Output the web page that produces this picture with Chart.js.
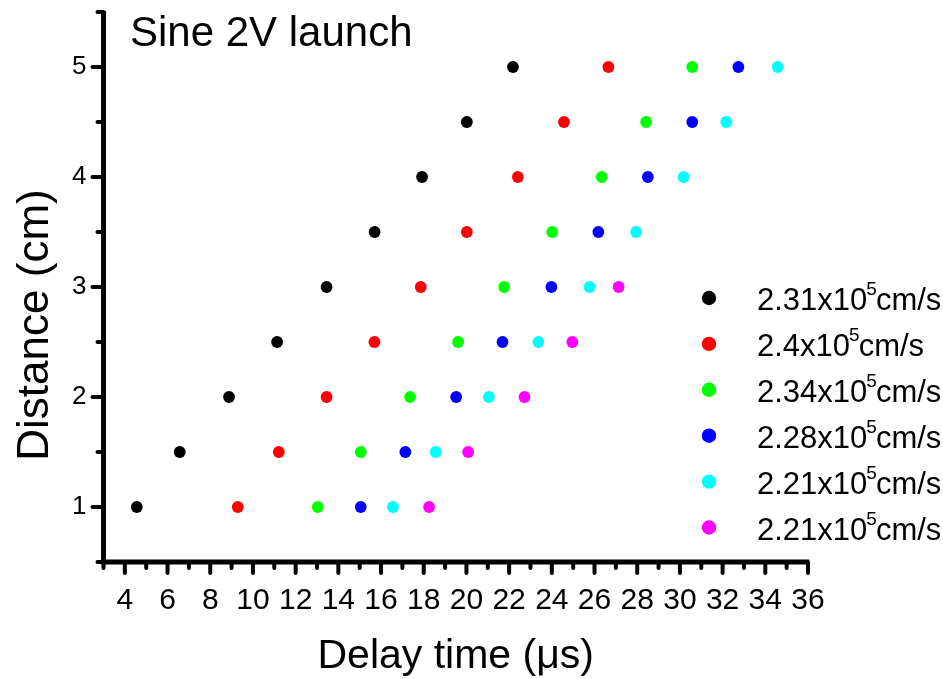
<!DOCTYPE html>
<html>
<head>
<meta charset="utf-8">
<script src="https://cdn.jsdelivr.net/npm/chart.js@4/dist/chart.umd.min.js"></script>
<style>
  html, body { margin: 0; padding: 0; background: #fff; overflow: hidden; }
  #wrap { width: 943px; height: 679px; position: relative; }
</style>
</head>
<body>
<div id="wrap"><canvas id="c" width="943" height="679"></canvas></div>
<script>
// Distance (cm) at which each delay was measured
const distance = [1, 1.5, 2, 2.5, 3, 3.5, 4, 4.5, 5];
const distanceShort = [1, 1.5, 2, 2.5, 3];

// Delay time (µs) per run
const delayRun1 = [4.56, 6.57, 8.88, 11.13, 13.45, 15.70, 17.92, 20.02, 22.18];
const delayRun2 = [9.29, 11.21, 13.45, 15.69, 17.86, 20.02, 22.41, 24.57, 26.65];
const delayRun3 = [13.04, 15.05, 17.36, 19.61, 21.77, 24.02, 26.34, 28.42, 30.58];
const delayRun4 = [15.05, 17.14, 19.52, 21.69, 23.98, 26.18, 28.50, 30.58, 32.74];
const delayRun5 = [16.56, 18.56, 21.05, 23.37, 25.77, 27.95, 30.17, 32.17, 34.58];
const delayRun6 = [18.25, 20.08, 22.72, 24.96, 27.13];

// Fitted wave speeds (mantissa of ×10^5 cm/s)
const speeds = ['2.31', '2.4', '2.34', '2.28', '2.21', '2.21'];
const colors = ['#000000', '#ff0000', '#00ff00', '#0000ff', '#00ffff', '#ff00ff'];

// Axis ticks
const xTicks = [4, 6, 8, 10, 12, 14, 16, 18, 20, 22, 24, 26, 28, 30, 32, 34, 36];
const yTicks = [1, 2, 3, 4, 5];

const FONT = '"Liberation Sans", Arial, Helvetica, sans-serif';

const runs = [
  [delayRun1, distance], [delayRun2, distance], [delayRun3, distance],
  [delayRun4, distance], [delayRun5, distance], [delayRun6, distanceShort]
];

const datasets = runs.map(([t, d], i) => ({
  label: speeds[i] + 'x10^5cm/s',
  data: t.map((v, k) => ({ x: v, y: d[k] })),
  backgroundColor: colors[i],
  borderColor: colors[i],
  pointRadius: 5.9,
  pointHoverRadius: 5.9,
  pointBorderWidth: 0,
  showLine: false
}));

function line(ctx, x1, y1, x2, y2) {
  ctx.beginPath(); ctx.moveTo(x1, y1); ctx.lineTo(x2, y2); ctx.stroke();
}

// Frame, tick marks, titles and the legend
const decorations = {
  id: 'decorations',
  afterDraw(chart) {
    const { ctx, chartArea: a, scales: { x, y } } = chart;
    ctx.save();
    ctx.strokeStyle = '#000';
    ctx.fillStyle = '#000';

    // tick marks: major on labelled values, minor halfway between
    ctx.lineWidth = 4;
    ctx.lineCap = 'round';
    for (let v = x.min; v <= x.max; v += 1) {
      const px = x.getPixelForValue(v);
      line(ctx, px, a.bottom, px, a.bottom + (v % 2 === 0 ? 11 : 6));
    }
    for (let v = y.min; v <= y.max + 1e-9; v += 0.5) {
      const py = y.getPixelForValue(v);
      line(ctx, a.left - (Number.isInteger(v) ? 11 : 6), py, a.left, py);
    }

    // axis lines
    ctx.lineWidth = 5;
    ctx.lineCap = 'butt';
    ctx.beginPath();
    ctx.moveTo(a.left, a.top - 1);
    ctx.lineTo(a.left, a.bottom);
    ctx.lineTo(a.right + 1, a.bottom);
    ctx.stroke();

    // plot title
    ctx.font = '42px ' + FONT;
    ctx.textAlign = 'left';
    ctx.textBaseline = 'alphabetic';
    ctx.fillText('Sine 2V launch', 130, 46);

    // x axis title
    ctx.font = '41px ' + FONT;
    ctx.textAlign = 'center';
    ctx.fillText('Delay time (\u03bcs)', (a.left + a.right) / 2, 668);

    // y axis title
    ctx.save();
    ctx.translate(36, 325);
    ctx.rotate(-Math.PI / 2);
    ctx.font = '44px ' + FONT;
    ctx.textAlign = 'center';
    ctx.textBaseline = 'middle';
    ctx.fillText('Distance (cm)', 0, 0);
    ctx.restore();

    // legend
    const lx = 709, ly0 = 298, dy = 45.9;
    chart.data.datasets.forEach((ds, i) => {
      const cy = ly0 + i * dy;
      ctx.fillStyle = ds.backgroundColor;
      ctx.beginPath();
      ctx.arc(lx, cy, 7.2, 0, Math.PI * 2);
      ctx.fill();

      ctx.fillStyle = '#000';
      ctx.textAlign = 'left';
      ctx.textBaseline = 'alphabetic';
      const base = cy + 12;
      let tx = 757;
      const head = speeds[i] + 'x10';
      ctx.font = '31px ' + FONT;
      ctx.fillText(head, tx, base);
      tx += ctx.measureText(head).width;
      ctx.font = '19px ' + FONT;
      ctx.fillText('5', tx - 1, base - 15);
      tx += ctx.measureText('5').width - 2;
      ctx.font = '31px ' + FONT;
      ctx.fillText('cm/s', tx, base);
    });
    ctx.restore();
  }
};

new Chart(document.getElementById('c'), {
  type: 'scatter',
  data: { datasets },
  options: {
    responsive: false,
    animation: false,
    devicePixelRatio: 1,
    events: [],
    layout: { padding: { top: 12, right: 135, left: 0, bottom: 0 } },
    plugins: { legend: { display: false }, tooltip: { enabled: false }, title: { display: false } },
    scales: {
      x: {
        type: 'linear',
        min: 3,
        max: 36,
        afterBuildTicks: s => { s.ticks = xTicks.map(v => ({ value: v })); },
        afterFit: s => { s.height = 117; },
        grid: { display: false, drawTicks: false },
        border: { display: false },
        ticks: {
          autoSkip: false,
          maxRotation: 0,
          padding: 21,
          color: '#000',
          font: { family: FONT, size: 30 }
        }
      },
      y: {
        type: 'linear',
        min: 0.5,
        max: 5.5,
        afterBuildTicks: s => { s.ticks = yTicks.map(v => ({ value: v })); },
        afterFit: s => { s.width = 103.5; s.paddingTop = 0; s.paddingBottom = 0; },
        grid: { display: false, drawTicks: false },
        border: { display: false },
        ticks: {
          padding: 17,
          color: '#000',
          font: { family: FONT, size: 26 }
        }
      }
    }
  },
  plugins: [decorations]
});
</script>
</body>
</html>
